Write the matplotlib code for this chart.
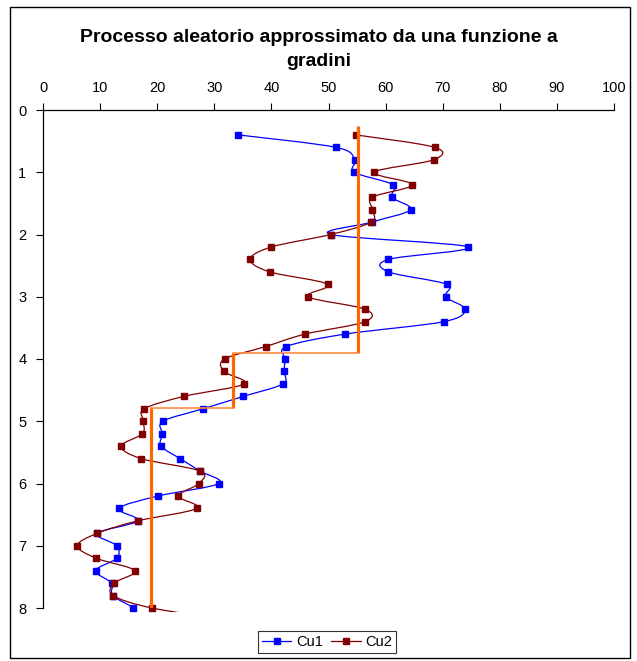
import numpy as np
import matplotlib
matplotlib.use('Agg')
import matplotlib.pyplot as plt
from matplotlib.path import Path
from matplotlib.patches import PathPatch, Rectangle
from matplotlib.lines import Line2D

plt.rcParams['font.family'] = ['Liberation Sans', 'DejaVu Sans']

# profondità dei campioni (l'ultimo cade appena fuori dall'asse)
depth = [0.4, 0.6, 0.8, 1.0, 1.2, 1.4, 1.6, 1.8, 2.0, 2.2,
         2.4, 2.6, 2.8, 3.0, 3.2, 3.4, 3.6, 3.8, 4.0, 4.2,
         4.4, 4.6, 4.8, 5.0, 5.2, 5.4, 5.6, 5.8, 6.0, 6.2,
         6.4, 6.6, 6.8, 7.0, 7.2, 7.4, 7.6, 7.8, 8.0, 8.2]

cu1 = [34.2, 51.3, 54.6, 54.5, 61.3, 61.1, 64.4, 57.6, 50.4, 74.5,
       60.5, 60.5, 70.7, 70.5, 73.9, 70.2, 52.9, 42.6, 42.4, 42.2,
       42.0, 35.1, 28.0, 21.0, 20.9, 20.7, 24.0, 27.5, 30.8, 20.2,
       13.3, 16.6, 9.5, 12.9, 12.9, 9.2, 12.0, 12.2, 15.8, 17.0]

cu2 = [54.8, 68.6, 68.4, 58.0, 64.7, 57.7, 57.7, 57.5, 50.4, 40.0,
       36.3, 39.7, 49.9, 46.4, 56.4, 56.4, 45.9, 39.0, 31.8, 31.7,
       35.2, 24.7, 17.7, 17.6, 17.4, 13.7, 17.2, 27.5, 27.3, 23.7,
       26.9, 16.6, 9.5, 6.0, 9.3, 16.1, 12.5, 12.3, 19.1, 33.0]

# funzione a gradini: livelli e profondità di cambio gradino
step_levels = [55.1, 33.3, 19.0]
step_edges = [0.25, 3.9, 4.78, 8.0]


def smooth_path(x, y):
    """Curva levigata tipo Excel (Catmull-Rom convertita in Bezier cubiche)."""
    pts = np.column_stack([x, y])
    n = len(pts)
    verts = [pts[0]]
    codes = [Path.MOVETO]
    for i in range(n - 1):
        p0 = pts[i - 1] if i > 0 else pts[i]
        p1 = pts[i]
        p2 = pts[i + 1]
        p3 = pts[i + 2] if i + 2 < n else pts[i + 1]
        verts += [p1 + (p2 - p0) / 6, p2 - (p3 - p1) / 6, p2]
        codes += [Path.CURVE4] * 3
    return Path(verts, codes)


fig = plt.figure(figsize=(6.37, 6.61), dpi=100)
ax = fig.add_axes([43 / 637, 1 - 608 / 661, 571 / 637, 498 / 661])

ax.set_xlim(0, 100)
ax.set_ylim(8, 0)

# area di ritaglio appena più bassa dell'asse
clip = Rectangle((0, -0.008), 1, 1.008, transform=ax.transAxes)

for vals, col in [(cu1, '#0000ff'), (cu2, '#800000')]:
    patch = PathPatch(smooth_path(vals, depth), fill=False, ec=col, lw=0.9, zorder=3)
    ax.add_patch(patch)
    patch.set_clip_path(clip)
    pts = ax.plot(vals, depth, ls='none', marker='s', ms=4.2, color=col, zorder=4)[0]
    pts.set_clip_path(clip)

# gradini: tratti verticali spessi, raccordi orizzontali sottili
for i, lev in enumerate(step_levels):
    ax.plot([lev, lev], [step_edges[i], step_edges[i + 1]], color='#ff6600',
            lw=2.3, solid_capstyle='butt', zorder=5)
    if i + 1 < len(step_levels):
        ax.plot([lev, step_levels[i + 1]], [step_edges[i + 1], step_edges[i + 1]],
                color='#ff8c40', lw=1.2, zorder=5)

ax.xaxis.tick_top()
ax.set_xticks(np.arange(0, 101, 10))
ax.set_yticks(np.arange(0, 9, 1))
ax.tick_params(axis='both', direction='out', length=5, width=0.8,
               labelsize=10.5, colors='black')
ax.tick_params(axis='x', pad=6)
ax.tick_params(axis='y', pad=7)
for s in ['bottom', 'right']:
    ax.spines[s].set_visible(False)
for s in ['top', 'left']:
    ax.spines[s].set_linewidth(0.9)

fig.text(0.5, 1 - 38 / 661, 'Processo aleatorio approssimato da una funzione a',
         ha='center', va='center', fontsize=14, fontweight='bold')
fig.text(0.5, 1 - 62 / 661, 'gradini', ha='center', va='center',
         fontsize=14, fontweight='bold')

handles = [Line2D([], [], color='#0000ff', lw=0.9, marker='s', ms=4.2),
           Line2D([], [], color='#800000', lw=0.9, marker='s', ms=4.2)]
leg = fig.legend(handles, ['Cu1', 'Cu2'], loc='center',
                 bbox_to_anchor=(327 / 637, 1 - 642 / 661), ncol=2,
                 fontsize=10.5, frameon=True, fancybox=False, handlelength=2.0,
                 handletextpad=0.3, columnspacing=0.6, borderpad=0.3)
leg.get_frame().set_edgecolor('black')
leg.get_frame().set_linewidth(0.8)

# cornice esterna del grafico
fig.patches.append(Rectangle((10 / 637, 1 - 658 / 661), 620 / 637, 651 / 661,
                             transform=fig.transFigure, fill=False,
                             ec='black', lw=1.0))

fig.savefig('out.png', dpi=100)
